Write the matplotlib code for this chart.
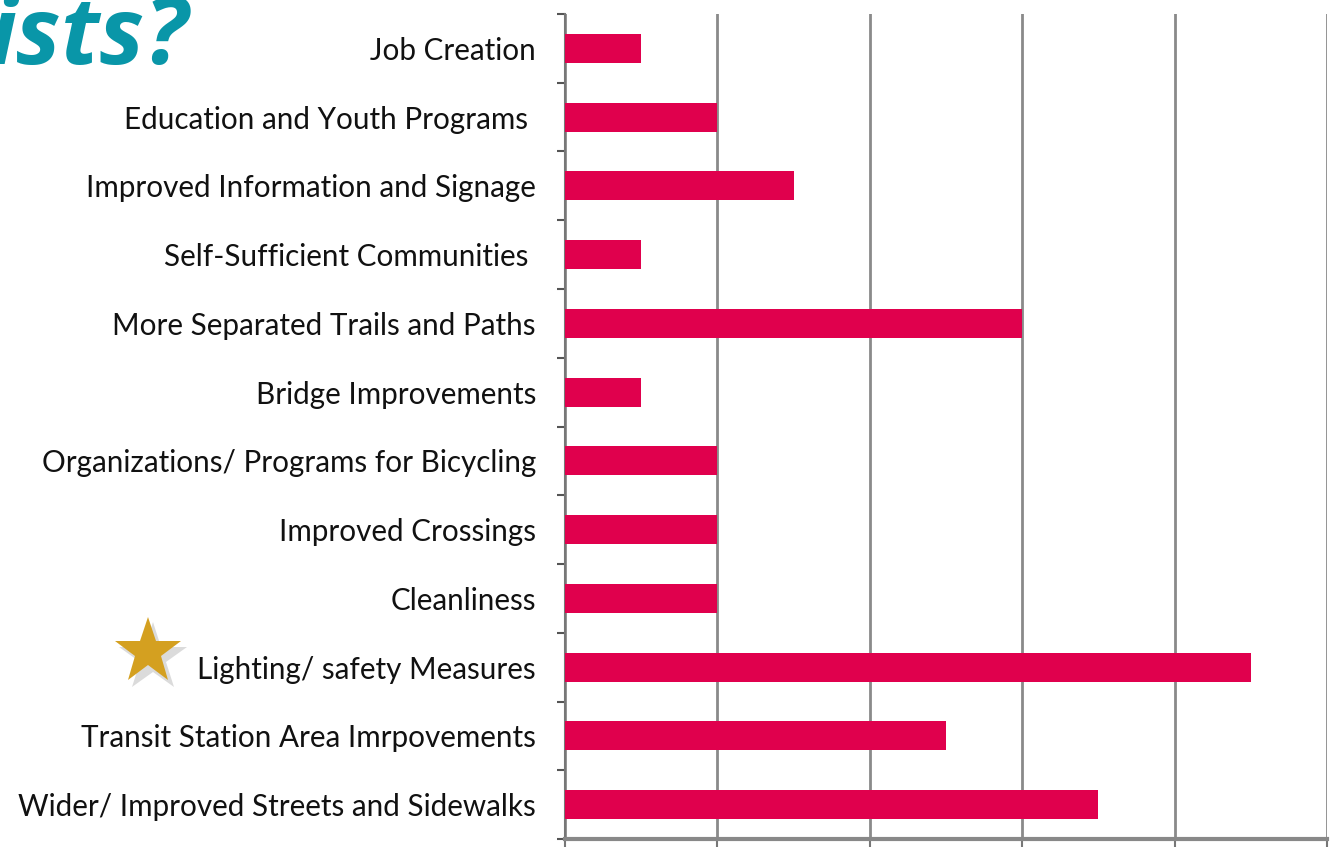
import numpy as np
import matplotlib.pyplot as plt
from matplotlib.lines import Line2D

# categories top -> bottom
categories = [
    "Job Creation",
    "Education and Youth Programs ",
    "Improved Information and Signage",
    "Self-Sufficient Communities ",
    "More Separated Trails and Paths",
    "Bridge Improvements",
    "Organizations/ Programs for Bicycling",
    "Improved Crossings",
    "Cleanliness",
    "Lighting/ safety Measures",
    "Transit Station Area Imrpovements",
    "Wider/ Improved Streets and Sidewalks",
]
counts = [1, 2, 3, 1, 6, 1, 2, 2, 2, 9, 5, 7]
x_ticks = [0, 2, 4, 6, 8, 10]

bar_color = "#E0004D"
grid_color = "#8a8a8a"

fig = plt.figure(figsize=(13.33, 8.47), dpi=100)
ax = fig.add_axes([0.4239, 0.0094, 0.5716, 0.9741])

y = np.arange(len(categories))
ax.barh(y, counts, height=0.42, color=bar_color, zorder=3)

ax.set_xlim(0, 10)
ax.set_ylim(len(categories) - 0.5, -0.5)
ax.set_xticks(x_ticks)
ax.set_xticklabels([])
ax.grid(axis="x", color=grid_color, linewidth=2, zorder=1)

ax.set_yticks(y)
ax.set_yticklabels(categories, fontsize=21.3, family="Lato", color="#111111")
ax.tick_params(axis="y", length=0, pad=21)
ax.set_yticks(np.arange(-0.5, len(categories), 1), minor=True)
ax.tick_params(axis="y", which="minor", length=6, width=1.5, color="#555555")
ax.tick_params(axis="x", length=6, width=1.5, color="#777777")

for s in ["top", "right"]:
    ax.spines[s].set_visible(False)
ax.spines["left"].set_color("#777777")
ax.spines["left"].set_linewidth(1.5)
ax.spines["bottom"].set_color("#888888")
ax.spines["bottom"].set_linewidth(3)

# title fragment cut off at the left edge
fig.text(0.141, 0.924, "ists?", ha="right", va="baseline", fontsize=68,
         fontweight="bold", fontstyle="italic", color="#0996A8",
         family="Open Sans")

# gold star with a soft shadow
sx, sy = 148 / 1333, 1 - 652 / 847
fig.add_artist(Line2D([sx + 0.004], [sy - 0.007], marker="*", markersize=52,
                      color="#999999", alpha=0.35, markeredgewidth=0,
                      transform=fig.transFigure))
fig.add_artist(Line2D([sx], [sy], marker="*", markersize=50,
                      color="#D4A020", markeredgewidth=0,
                      transform=fig.transFigure))

fig.savefig("out.png", dpi=100)
